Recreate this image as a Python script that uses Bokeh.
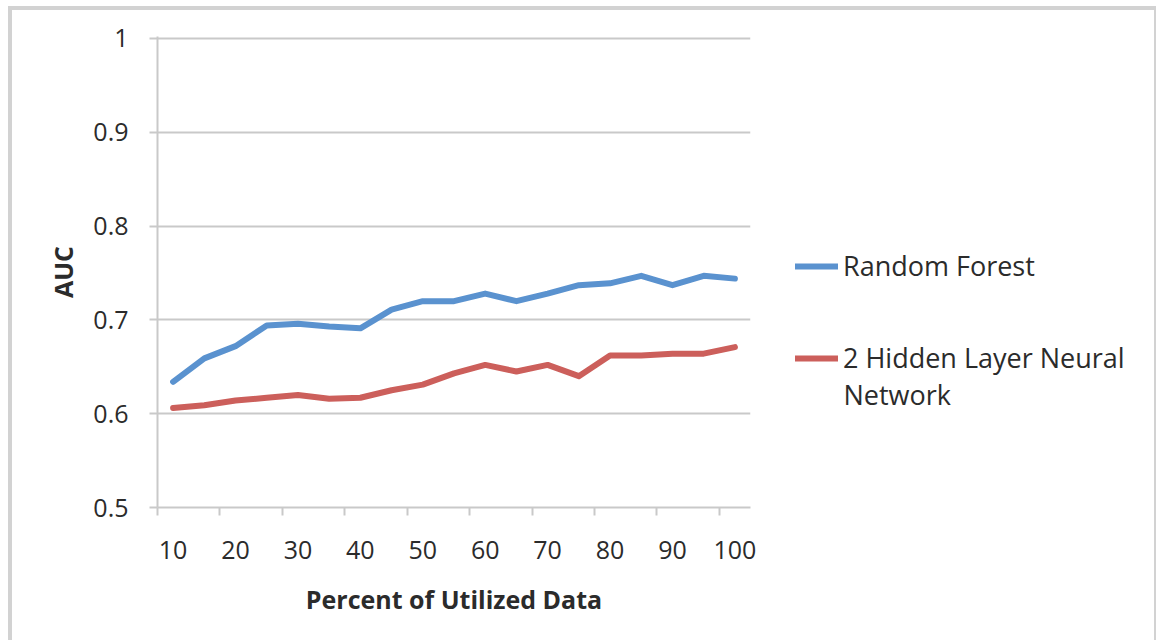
from bokeh.plotting import figure
from bokeh.layouts import row
from bokeh.models import (Range1d, FixedTicker, NumeralTickFormatter, Legend,
                          LegendItem, Label)
from bokeh.embed import file_html
from bokeh.resources import INLINE

# Share of the training data used (percent) and the resulting AUC per model
percent = [10, 15, 20, 25, 30, 35, 40, 45, 50, 55, 60, 65, 70, 75, 80, 85, 90, 95, 100]
random_forest = [0.634, 0.659, 0.672, 0.694, 0.696, 0.693, 0.691, 0.711, 0.720, 0.720,
                 0.728, 0.720, 0.728, 0.737, 0.739, 0.747, 0.737, 0.747, 0.744]
neural_net = [0.606, 0.609, 0.614, 0.617, 0.620, 0.616, 0.617, 0.625, 0.631, 0.643,
              0.652, 0.645, 0.652, 0.640, 0.662, 0.662, 0.664, 0.664, 0.671]

series_names = ["Random Forest", "2 Hidden Layer Neural", "Network"]
x_labels = [10, 20, 30, 40, 50, 60, 70, 80, 90, 100]
x_boundaries = [7.5, 17.5, 27.5, 37.5, 47.5, 57.5, 67.5, 77.5, 87.5, 97.5]
y_ticks = [0.5, 0.6, 0.7, 0.8, 0.9, 1.0]

BLUE = "#5A92CF"
RED = "#CC5F5B"
GRAY = "#C9C9C9"
TEXT = "#2b2b2b"
FONT = "Open Sans"
LINE_W = 6

# ---- main chart -----------------------------------------------------------
p = figure(width=758, height=630, output_backend="svg", toolbar_location=None,
           x_range=Range1d(7.5, 102.5), y_range=Range1d(0.5, 1.0021),
           min_border_left=145, min_border_right=20, min_border_top=26,
           min_border_bottom=133)
p.outline_line_color = None
p.border_fill_color = "white"

p.line(percent, random_forest, line_color=BLUE, line_width=LINE_W,
       line_join="round", line_cap="round")
p.line(percent, neural_net, line_color=RED, line_width=LINE_W,
       line_join="round", line_cap="round")

# x axis: labels on every other category, tick marks on category boundaries
xa = p.xaxis[0]
xa.ticker = FixedTicker(ticks=x_labels, minor_ticks=x_boundaries)
xa.axis_label = "Percent of Utilized Data"
xa.axis_line_color = GRAY
xa.axis_line_width = 2
xa.major_tick_line_color = None
xa.major_tick_out = 8
xa.major_tick_in = 0
xa.minor_tick_line_color = GRAY
xa.minor_tick_line_width = 2
xa.minor_tick_out = 8
xa.minor_tick_in = 0
xa.major_label_standoff = 25
xa.axis_label_standoff = 20

ya = p.yaxis[0]
ya.ticker = FixedTicker(ticks=y_ticks)
ya.formatter = NumeralTickFormatter(format="0.[0]")
ya.axis_label = "AUC"
ya.axis_line_color = GRAY
ya.axis_line_width = 2
ya.major_tick_line_color = GRAY
ya.major_tick_line_width = 2
ya.major_tick_out = 8
ya.major_tick_in = 0
ya.minor_tick_line_color = None
ya.major_label_standoff = 21
ya.axis_label_standoff = 10

for ax in (xa, ya):
    ax.major_label_text_font = FONT
    ax.major_label_text_font_size = "25px"
    ax.major_label_text_color = TEXT
    ax.axis_label_text_font = FONT
    ax.axis_label_text_font_size = "25px"
    ax.axis_label_text_font_style = "bold"
    ax.axis_label_text_color = TEXT

p.xgrid.visible = False
p.ygrid.ticker = FixedTicker(ticks=y_ticks)
p.ygrid.grid_line_color = GRAY
p.ygrid.grid_line_width = 2

# ---- legend panel on the right ---------------------------------------------
lp = figure(width=384, height=630, output_backend="svg", toolbar_location=None,
            x_range=Range1d(0, 1), y_range=Range1d(0, 1),
            min_border=0, x_axis_type=None, y_axis_type=None)
lp.outline_line_color = None
lp.grid.visible = False
lp.border_fill_color = "white"

# the series again, outside this panel's view; they only supply the swatch styles
rf_key = lp.line(percent, random_forest, line_color=BLUE, line_width=LINE_W, line_cap="round")
nn_key = lp.line(percent, neural_net, line_color=RED, line_width=LINE_W, line_cap="round")


def legend_for(item, vx, vy):
    return Legend(items=[item], location=(vx, vy), orientation="vertical",
                  glyph_width=43, label_standoff=5, padding=0, margin=0, spacing=0,
                  border_line_color=None, background_fill_alpha=0,
                  label_text_font=FONT, label_text_font_size="27px",
                  label_text_color=TEXT)


lp.add_layout(legend_for(LegendItem(label=series_names[0], renderers=[rf_key]), 25, 223))
lp.add_layout(legend_for(LegendItem(label=series_names[1], renderers=[nn_key]), 25, 131))
lp.add_layout(Label(x=73, y=113, x_units="screen", y_units="screen", text=series_names[2],
                    text_font=FONT, text_font_size="27px", text_color=TEXT,
                    text_baseline="middle", text_align="left"))

layout = row(p, lp, spacing=0)
layout.styles = {"margin-left": "8px", "margin-top": "6px",
                 "border-top": "4px solid #d2d2d2", "border-left": "4px solid #d2d2d2",
                 "border-right": "2px solid #d2d2d2"}

open("out.html", "w").write(file_html(layout, INLINE))
